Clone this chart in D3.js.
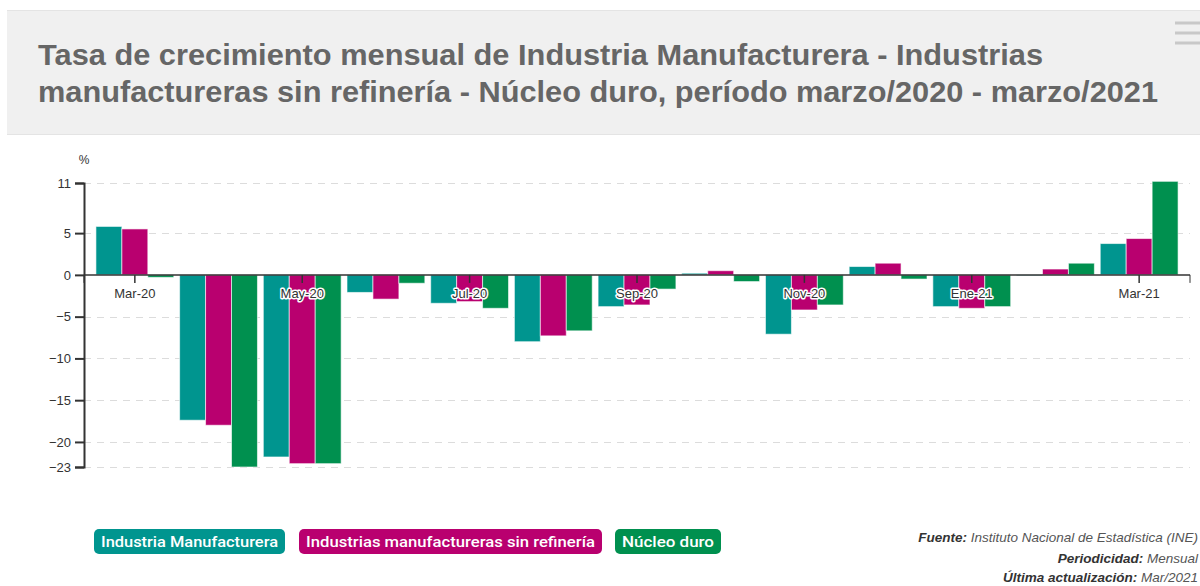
<!DOCTYPE html>
<html>
<head>
<meta charset="utf-8">
<script src="https://cdn.jsdelivr.net/npm/d3@7"></script>
<style>
  body { margin: 0; background: #fff; }
  svg { display: block; font-family: "Liberation Sans", Arial, sans-serif; }
</style>
</head>
<body>
<script>
var meses = ["Mar-20", "Abr-20", "May-20", "Jun-20", "Jul-20", "Ago-20", "Sep-20",
             "Oct-20", "Nov-20", "Dic-20", "Ene-21", "Feb-21", "Mar-21"];
var industria = [5.8, -17.4, -21.8, -2.1, -3.4, -8.0, -3.8, 0.2, -7.1, 1.0, -3.8, -0.1, 3.75];
var sinRefineria = [5.5, -18.0, -22.6, -2.9, -3.2, -7.3, -3.6, 0.5, -4.2, 1.4, -4.0, 0.7, 4.35];
var nucleo = [-0.3, -23.0, -22.6, -1.0, -4.0, -6.7, -1.7, -0.8, -3.6, -0.5, -3.8, 1.4, 11.2];
var series = ["Industria Manufacturera", "Industrias manufactureras sin refinería", "Núcleo duro"];
var colores = ["#00958f", "#b9006f", "#00904f"];
var yTicks = [11, 5, 0, -5, -10, -15, -20, -23];
var xTicks = ["Mar-20", "May-20", "Jul-20", "Sep-20", "Nov-20", "Ene-21", "Mar-21"];

function init() {
  var w = 1200, h = 586;
  var svg = d3.select("body").append("svg").attr("width", w).attr("height", h);

  // title box
  svg.append("rect").attr("x", 7).attr("y", 10).attr("width", w - 7).attr("height", 125)
    .attr("fill", "#f0f0f0");
  svg.append("line").attr("x1", 7).attr("x2", w).attr("y1", 10.5).attr("y2", 10.5).attr("stroke", "#e4e4e4");
  svg.append("line").attr("x1", 7).attr("x2", w).attr("y1", 134.5).attr("y2", 134.5).attr("stroke", "#e4e4e4");
  var title = svg.append("text").attr("fill", "#666").attr("font-weight", "bold").attr("font-size", 30);
  title.append("tspan").attr("x", 38).attr("y", 65)
    .attr("textLength", 1005).attr("lengthAdjust", "spacingAndGlyphs")
    .text("Tasa de crecimiento mensual de Industria Manufacturera - Industrias");
  title.append("tspan").attr("x", 38).attr("y", 102)
    .attr("textLength", 1120).attr("lengthAdjust", "spacingAndGlyphs")
    .text("manufactureras sin refinería - Núcleo duro, período marzo/2020 - marzo/2021");

  // menu icon
  [23, 33, 43].forEach(function(y) {
    svg.append("rect").attr("x", 1175).attr("y", y - 1.5).attr("width", 30).attr("height", 3).attr("fill", "#c8c8c8");
  });

  var left = 84, right = 1190;
  var y = d3.scaleLinear().domain([-23, 11]).range([467, 183]);
  var x0 = d3.scaleBand().domain(meses).range([93, 1181]).paddingInner(0.07).paddingOuter(0.035);
  var x1 = d3.scaleBand().domain([0, 1, 2]).range([0, x0.bandwidth()]);

  // grid
  svg.append("g").selectAll("line").data(yTicks.filter(function(d) { return d !== 0; }))
    .enter().append("line")
    .attr("x1", left).attr("x2", right)
    .attr("y1", function(d) { return Math.round(y(d)) + 0.5; })
    .attr("y2", function(d) { return Math.round(y(d)) + 0.5; })
    .attr("stroke", "#dcdcdc").attr("stroke-dasharray", "7,6");

  // bars
  var datos = [industria, sinRefineria, nucleo];
  var g = svg.append("g").selectAll("g").data(meses).enter().append("g")
    .attr("transform", function(d) { return "translate(" + x0(d) + ",0)"; });
  g.selectAll("rect").data(function(d, i) {
      return datos.map(function(s, k) { return { k: k, v: s[i] }; });
    })
    .enter().append("rect")
    .attr("x", function(d) { return x1(d.k); })
    .attr("width", x1.bandwidth())
    .attr("y", function(d) { return y(Math.max(0, d.v)); })
    .attr("height", function(d) { return Math.abs(y(d.v) - y(0)); })
    .attr("fill", function(d) { return colores[d.k]; })
    .attr("stroke", "#fff").attr("stroke-opacity", 0.6).attr("stroke-width", 1);

  // y axis
  var yAxis = d3.axisLeft(y).tickValues(yTicks).tickSize(9).tickPadding(4).tickFormat(d3.format("d"));
  var ya = svg.append("g").attr("transform", "translate(" + left + ",0)").call(yAxis);
  ya.select(".domain").attr("stroke", "#333").attr("stroke-width", 2);
  ya.selectAll(".tick line").attr("stroke", "#333").attr("stroke-width", 2);
  ya.selectAll("text").attr("font-size", 13).attr("fill", "#333")
    .attr("font-family", "Liberation Sans, Arial, sans-serif");

  svg.append("text").attr("x", 84).attr("y", 164).attr("text-anchor", "middle")
    .attr("font-size", 12).attr("fill", "#333").text("%");

  // x axis at zero
  var xAxis = d3.axisBottom(x0).tickValues(xTicks).tickSize(8).tickPadding(6)
    .tickFormat(function(d) { return d; });
  var xa = svg.append("g").attr("transform", "translate(0," + y(0) + ")").call(xAxis);
  xa.select(".domain").remove();
  xa.append("line").attr("x1", left).attr("x2", right).attr("stroke", "#333").attr("stroke-width", 1.5);
  [left, right].forEach(function(px) {
    xa.append("line").attr("x1", px).attr("x2", px).attr("y1", 0).attr("y2", 8).attr("stroke", "#333");
  });
  xa.selectAll(".tick line").attr("stroke", "#333").attr("stroke-width", 1.5);
  xa.selectAll(".tick text").attr("font-size", 13).attr("fill", "#333")
    .attr("font-family", "Liberation Sans, Arial, sans-serif")
    .attr("stroke", "#fff").attr("stroke-width", 3).attr("stroke-linejoin", "round")
    .attr("paint-order", "stroke");

  // legend
  var leg = [{ x: 94, w: 191 }, { x: 299, w: 303 }, { x: 615, w: 106 }];
  series.forEach(function(s, i) {
    svg.append("rect").attr("x", leg[i].x).attr("y", 529).attr("width", leg[i].w).attr("height", 25)
      .attr("rx", 5).attr("fill", colores[i]);
    svg.append("text").attr("x", leg[i].x + 7).attr("y", 547)
      .attr("font-family", "Roboto, sans-serif").attr("font-size", 15).attr("font-weight", 500)
      .attr("fill", "#fff").attr("textLength", leg[i].w - 14).attr("lengthAdjust", "spacingAndGlyphs")
      .text(s);
  });

  // footer
  var pie = [["Fuente:", " Instituto Nacional de Estadística (INE)", 542],
             ["Periodicidad:", " Mensual", 563],
             ["Última actualización:", " Mar/2021", 582]];
  pie.forEach(function(p) {
    var t = svg.append("text").attr("x", 1198).attr("y", p[2]).attr("text-anchor", "end")
      .attr("font-size", 13.5).attr("font-style", "italic");
    t.append("tspan").attr("font-weight", "bold").attr("fill", "#333").text(p[0]);
    t.append("tspan").attr("fill", "#555").text(p[1]);
  });
}
window.onload = init;
</script>
</body>
</html>
